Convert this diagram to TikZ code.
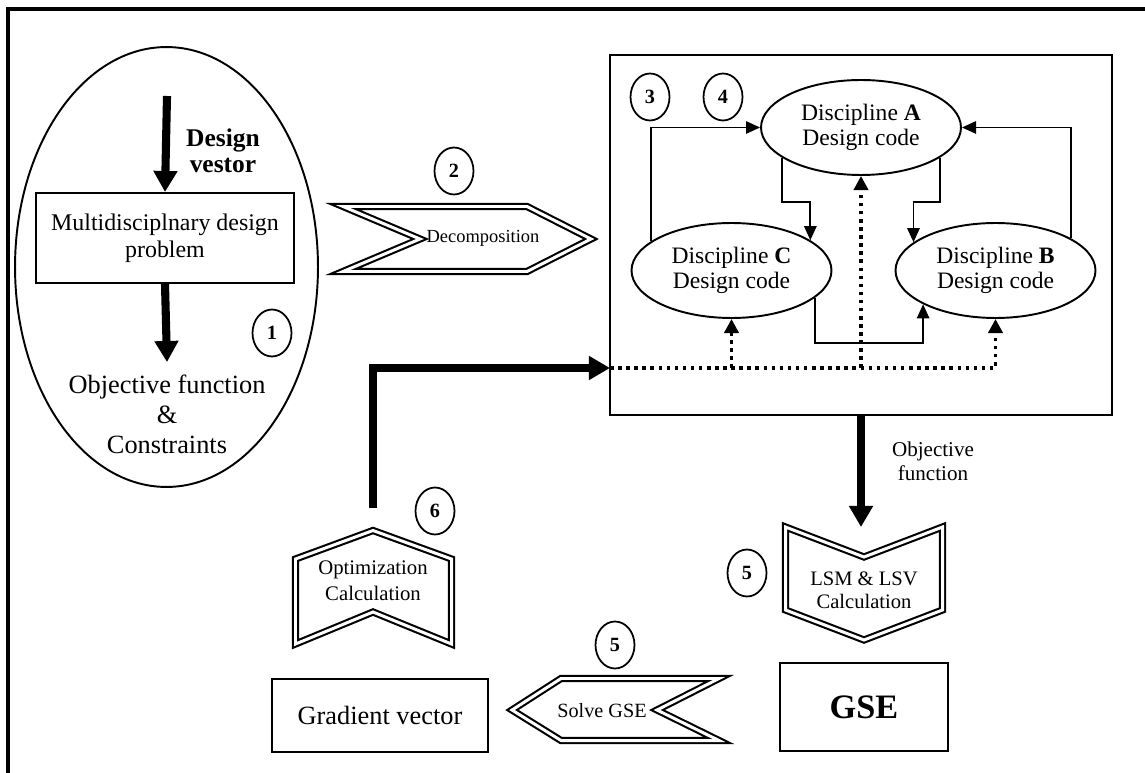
\documentclass[tikz,border=0pt]{standalone}
\usepackage{fontspec}
\setmainfont{Liberation Serif}
\usetikzlibrary{arrows.meta,shapes.geometric}

\tikzset{
  numcirc/.style={draw, ellipse, line width=1pt, minimum width=0.78cm, minimum height=0.94cm, inner sep=0pt, font=\fontsize{11.5}{13}\selectfont\bfseries},
  disc/.style={draw, ellipse, line width=1.1pt, minimum width=4cm, minimum height=1.9cm, inner sep=0pt, align=center, font=\fontsize{13.4}{14.4}\selectfont},
  plainbox/.style={draw, rectangle, line width=1.1pt, inner sep=0pt, align=center},
  bigarrow/.style={line width=4.6pt, line join=miter, -{Triangle[length=12pt,width=13pt]}},
  flow/.style={line width=1.1pt, -{Triangle[length=8pt,width=7pt]}},
  ctrl/.style={line width=2pt, dash pattern=on 2pt off 2.6pt, -{Triangle[length=8pt,width=8pt]}},
  dblshape/.style={draw, line width=1.2pt, double=white, double distance=1.7pt, line join=miter},
}

\begin{document}
\begin{tikzpicture}[x=0.02cm, y=-0.02cm]
    \useasboundingbox (0,0) rectangle (1145,773);

    % outer frame
    \draw[line width=2.4pt] (1146,9) -- (8,9) -- (8,774);

    % design problem (1)
    \node[draw, ellipse, line width=1.1pt, minimum width=6.06cm, minimum height=8.8cm] (mdo) at (166.5,267) {};
    \coordinate (dvin) at (167,96);
    \node[plainbox, minimum width=5.16cm, minimum height=1.8cm, font=\fontsize{13.6}{15.5}\selectfont] (prob) at (165,238) {Multidisciplnary design\\problem};
    \node[align=center, font=\fontsize{14.5}{15}\selectfont\bfseries] (dv) at (223,151) {Design\\vestor};
    \node[align=center, inner sep=0pt, font=\fontsize{15}{17}\selectfont] (obj) at (167,414) {Objective function\\\&\\Constraints};
    \draw[bigarrow] (dvin) -- (prob.north);
    \draw[bigarrow] (prob.south) -- ([yshift=7pt]obj.north);
    \node[numcirc] (n1) at (272,333) {1};

    % decomposition (2)
    \draw[dblshape] (343,206.5) -- (527,206.5) -- (591,239) -- (527,271.5) -- (343,271.5) -- (420,239) -- cycle;
    \node[font=\fontsize{10.5}{12}\selectfont] (dec) at (483,238) {Decomposition};
    \node[numcirc] (n2) at (454,171) {2};

    % disciplines (3), (4)
    \node[plainbox, minimum width=10.04cm, minimum height=7.2cm] (sys) at (861,235) {};
    \node[disc] (A) at (861,127.5) {Discipline \textbf{A}\\Design code};
    \node[disc] (C) at (731.5,270.5) {Discipline \textbf{C}\\Design code};
    \node[disc] (B) at (995.5,270.5) {Discipline \textbf{B}\\Design code};
    \node[numcirc] (n3) at (650,97) {3};
    \node[numcirc] (n4) at (723,97) {4};

    \draw[flow] (C.160) |- (A.west); % C -> A
    \draw[flow] (B.23) |- (A.east); % B -> A
    \draw[flow] (A.201) -- ++(0,44) -| (C.21); % A -> C
    \draw[flow] (A.339) -- ++(0,44) -| (B.161); % A -> B
    \draw[flow] (C.342) -- ++(0,45) -| (B.205); % C -> B

    % design variables into the disciplines (dotted)
    \coordinate (bus) at (610,368);
    \draw[ctrl] (bus) -| (B.south);
    \draw[ctrl] (bus -| C.south) -- (C.south);
    \draw[ctrl] (bus -| A.south) -- (A.south);

    % sensitivity (5)
    \coordinate (lsmtip) at (861,527);
    \draw[bigarrow] (sys.south) -- (lsmtip);
    \node[align=center, font=\fontsize{12}{13.5}\selectfont] (objlbl) at (933,461) {Objective\\function};
    \draw[dblshape] (785.5,527) -- (864,557) -- (942.5,527) -- (942.5,610) -- (864,640) -- (785.5,610) -- cycle;
    \node[align=center, font=\fontsize{11.7}{13}\selectfont] (lsm) at (864,590) {LSM \& LSV\\Calculation};
    \node[numcirc] (n5a) at (747,573) {5};
    \node[plainbox, minimum width=3.36cm, minimum height=1.76cm, font=\fontsize{19.5}{22}\selectfont\bfseries] (gse) at (864,707) {GSE};

    \draw[dblshape] (512,710) -- (561,678.5) -- (719,678.5) -- (657,710) -- (719,740.5) -- (561,740.5) -- cycle;
    \node[font=\fontsize{11.5}{14}\selectfont] (solve) at (602,711) {Solve GSE};
    \node[numcirc] (n5b) at (615,645) {5};
    \node[plainbox, minimum width=4.32cm, minimum height=1.46cm, font=\fontsize{15}{17}\selectfont] (grad) at (380,715.5) {Gradient vector};

    % optimization (6)
    \draw[dblshape] (373,530.5) -- (451.5,559) -- (451.5,644) -- (373,612) -- (295.5,644) -- (295.5,559) -- cycle;
    \node[align=center, font=\fontsize{11.8}{15}\selectfont] (opt) at (373,581) {Optimization\\Calculation};
    \node[numcirc] (n6) at (435,511) {6};
    \coordinate (optup) at (373,508);
    \draw[bigarrow] (optup) |- (bus);

\end{tikzpicture}
\end{document}
